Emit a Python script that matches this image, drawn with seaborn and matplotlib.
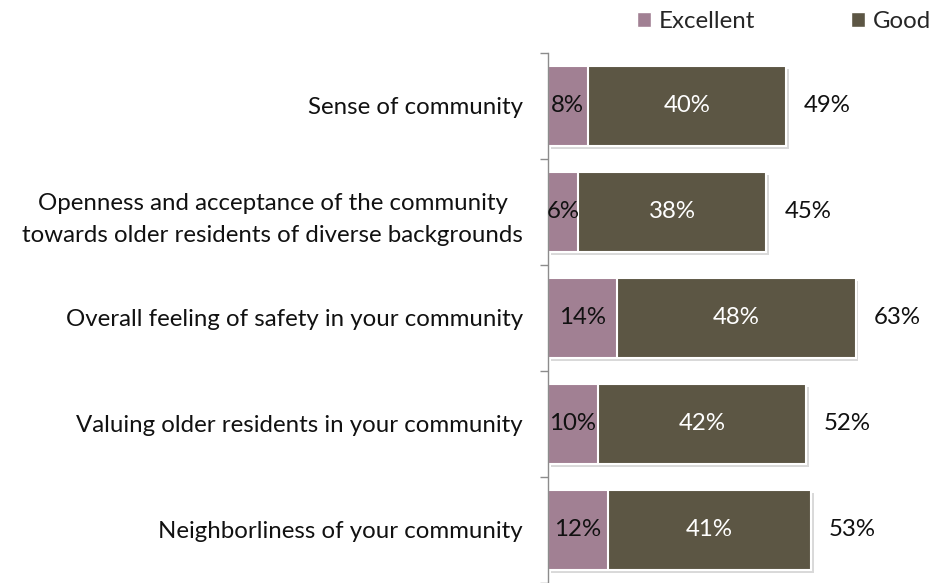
import matplotlib
matplotlib.use("Agg")
import matplotlib.pyplot as plt
import matplotlib.patheffects as pe
from matplotlib.patches import Patch
import seaborn as sns
import pandas as pd

categories = [
    "Sense of community",
    "Openness and acceptance of the community\ntowards older residents of diverse backgrounds",
    "Overall feeling of safety in your community",
    "Valuing older residents in your community",
    "Neighborliness of your community",
]
excellent = [8, 6, 14, 10, 12]
good = [40, 38, 48, 42, 41]
totals = [49, 45, 63, 52, 53]

EXC_COLOR = "#A18093"
GOOD_COLOR = "#5C5644"

sns.set_theme(style="white")
plt.rcParams["font.family"] = ["Lato", "DejaVu Sans"]
FS = 17.3

df = pd.DataFrame({
    "category": categories,
    "excellent": excellent,
    "good": good,
})
df["stack"] = df["excellent"] + df["good"]

fig = plt.figure(figsize=(9.3, 5.83), dpi=100)
ax = fig.add_axes([548 / 930, 0.0, 382 / 930, 530 / 583])

shadow = [pe.SimplePatchShadow(offset=(2, -2), shadow_rgbFace="#000000", alpha=0.15), pe.Normal()]

sns.barplot(data=df, y="category", x="stack", orient="h", color=GOOD_COLOR,
            saturation=1, width=0.75, edgecolor="white", linewidth=1.5, ax=ax)
sns.barplot(data=df, y="category", x="excellent", orient="h", color=EXC_COLOR,
            saturation=1, width=0.75, edgecolor="white", linewidth=1.5, ax=ax)

n = len(categories)
for p in ax.patches[:n]:
    p.set_path_effects(shadow)

ax.set_xlim(0, 382 / 4.96)
ax.set_ylim(n - 0.5, -0.5)

for i in range(n):
    e, g, t = excellent[i], good[i], totals[i]
    ax.text(e / 2, i, f"{e}%", ha="center", va="center", fontsize=FS, color="#111111")
    ax.text(e + g / 2, i, f"{g}%", ha="center", va="center", fontsize=FS, color="white")
    ax.annotate(f"{t}%", xy=(e + g, i), xytext=(13, 0), textcoords="offset points",
                ha="left", va="center", fontsize=FS, color="#111111")

ax.set_xlabel("")
ax.set_ylabel("")
ax.set_xticks([])
ax.set_yticks(range(n))
ax.set_yticklabels(categories, fontsize=FS, color="#111111", ha="right",
                   multialignment="center", linespacing=1.65)
ax.tick_params(axis="y", which="major", length=0, pad=18)
ax.set_yticks([i - 0.5 for i in range(n + 1)], minor=True)
ax.tick_params(axis="y", which="minor", length=6, width=1, color="#8c8c8c", direction="out", left=True)

for side in ["top", "right", "bottom"]:
    ax.spines[side].set_visible(False)
ax.spines["left"].set_color("#8c8c8c")
ax.spines["left"].set_linewidth(1)

handles = [Patch(facecolor=EXC_COLOR, label="Excellent"),
           Patch(facecolor=GOOD_COLOR, label="Good")]
fig.legend(handles=handles, loc="upper right", bbox_to_anchor=(1.024, 1.018), ncol=2,
           frameon=False, fontsize=FS, handlelength=0.6, handleheight=0.6,
           handletextpad=0.3, columnspacing=4.0)

fig.savefig("out.png", dpi=100)
